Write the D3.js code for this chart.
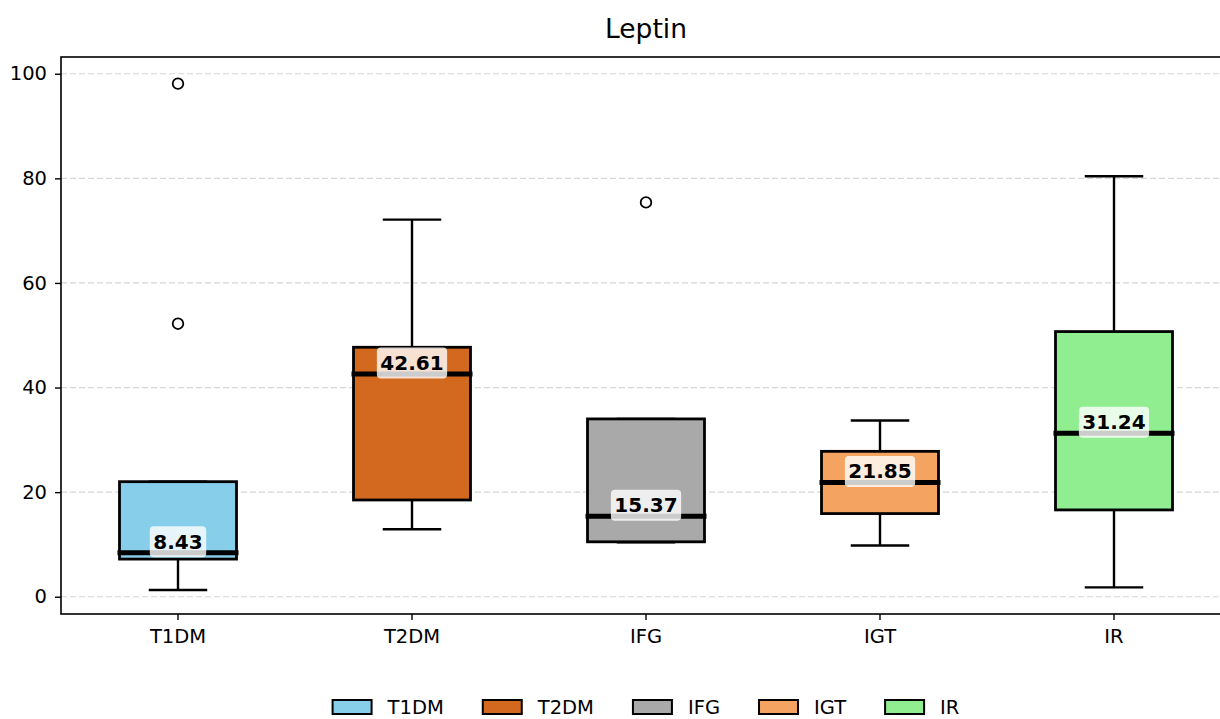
<!DOCTYPE html>
<html>
<head>
<meta charset="utf-8">
<script src="https://cdn.jsdelivr.net/npm/d3@7"></script>
<style>
  html, body { margin: 0; padding: 0; background: #fff; }
  svg { display: block; font-family: "DejaVu Sans", sans-serif; }
</style>
</head>
<body>
<svg id="chart" width="1220" height="719"></svg>
<script>
const title = "Leptin";
const categories = ["T1DM", "T2DM", "IFG", "IGT", "IR"];
const whiskerLow = [1.3, 12.9, 10.4, 9.8, 1.8];
const q1 = [7.2, 18.5, 10.5, 15.9, 16.6];
const medians = [8.43, 42.61, 15.37, 21.85, 31.24];
const q3 = [22.0, 47.7, 34.0, 27.8, 50.7];
const whiskerHigh = [22.0, 72.1, 34.0, 33.7, 80.4];
const outliers = [[98.1, 52.2], [], [75.4], [], []];
const colors = ["#87CEEB", "#D2691E", "#A9A9A9", "#F4A460", "#90EE90"];
const yTicks = [0, 20, 40, 60, 80, 100];

const svg = d3.select("#chart");
const plot = { left: 61, right: 1231, top: 57, bottom: 614 };

const x = d3.scaleBand().domain(categories)
  .range([plot.left, plot.right]).paddingInner(0.5).paddingOuter(0.25);
const y = d3.scaleLinear().domain([-3.3, 103.2]).range([plot.bottom, plot.top]);
const cx = c => x(c) + x.bandwidth() / 2;

// grid
svg.append("g").selectAll("line").data(yTicks).join("line")
  .attr("x1", plot.left).attr("x2", plot.right)
  .attr("y1", d => y(d)).attr("y2", d => y(d))
  .attr("stroke", "#d6d6d6").attr("stroke-width", 1.2)
  .attr("stroke-dasharray", "6,3");

const data = categories.map((c, i) => ({
  c, lo: whiskerLow[i], q1: q1[i], med: medians[i], q3: q3[i], hi: whiskerHigh[i],
  out: outliers[i], color: colors[i]
}));

const g = svg.append("g");
const bw = x.bandwidth();
data.forEach(d => {
  const xc = cx(d.c);
  // whiskers
  g.append("line").attr("x1", xc).attr("x2", xc).attr("y1", y(d.q1)).attr("y2", y(d.lo))
    .attr("stroke", "#000").attr("stroke-width", 2.4);
  g.append("line").attr("x1", xc).attr("x2", xc).attr("y1", y(d.q3)).attr("y2", y(d.hi))
    .attr("stroke", "#000").attr("stroke-width", 2.4);
  // caps
  [d.lo, d.hi].forEach(v => {
    g.append("line").attr("x1", xc - bw / 4).attr("x2", xc + bw / 4)
      .attr("y1", y(v)).attr("y2", y(v))
      .attr("stroke", "#000").attr("stroke-width", 2.4);
  });
  // box
  g.append("rect").attr("x", xc - bw / 2).attr("width", bw)
    .attr("y", y(d.q3)).attr("height", y(d.q1) - y(d.q3))
    .attr("fill", d.color).attr("stroke", "#000").attr("stroke-width", 2.8);
  // median
  g.append("line").attr("x1", xc - bw / 2 - 2).attr("x2", xc + bw / 2 + 2)
    .attr("y1", y(d.med)).attr("y2", y(d.med))
    .attr("stroke", "#000").attr("stroke-width", 5);
  // outliers
  d.out.forEach(v => {
    g.append("circle").attr("cx", xc).attr("cy", y(v)).attr("r", 5.3)
      .attr("fill", "none").attr("stroke", "#000").attr("stroke-width", 1.8);
  });
  // median label
  const lg = g.append("g");
  const bg = lg.append("rect");
  const t = lg.append("text").attr("x", xc).attr("y", y(d.med) - 4)
    .attr("text-anchor", "middle").attr("font-size", 20).attr("font-weight", "bold")
    .attr("fill", "#000").text(d.med.toFixed(2));
  const bb = t.node().getBBox();
  const pad = 3.5;
  bg.attr("x", bb.x - pad).attr("y", bb.y - pad)
    .attr("width", bb.width + 2 * pad).attr("height", bb.height + 2 * pad)
    .attr("rx", 4).attr("fill", "#fff").attr("fill-opacity", 0.8);
});

// frame
svg.append("rect").attr("x", plot.left).attr("y", plot.top)
  .attr("width", plot.right - plot.left).attr("height", plot.bottom - plot.top)
  .attr("fill", "none").attr("stroke", "#000").attr("stroke-width", 1.6);

// axes
const yAxis = svg.append("g").attr("transform", `translate(${plot.left},0)`)
  .call(d3.axisLeft(y).tickValues(yTicks).tickSize(6).tickPadding(8).tickFormat(d3.format("d")));
const xAxis = svg.append("g").attr("transform", `translate(0,${plot.bottom})`)
  .call(d3.axisBottom(x).tickSize(6).tickPadding(9));
[yAxis, xAxis].forEach(a => {
  a.select(".domain").remove();
  a.selectAll(".tick line").attr("stroke", "#000").attr("stroke-width", 1.4);
  a.selectAll(".tick text").attr("font-size", 19.5).attr("fill", "#000")
    .attr("font-family", "DejaVu Sans");
});

// title
svg.append("text").attr("x", (plot.left + plot.right) / 2).attr("y", 38)
  .attr("text-anchor", "middle").attr("font-size", 26.5).attr("fill", "#000").text(title);

// legend
const leg = svg.append("g");
const handleW = 39, handleH = 14, textGap = 16, colGap = 39;
let cursor = 0;
data.forEach(d => {
  const it = leg.append("g").attr("transform", `translate(${cursor},0)`);
  it.append("rect").attr("x", 0).attr("y", -handleH).attr("width", handleW).attr("height", handleH)
    .attr("fill", d.color).attr("stroke", "#000").attr("stroke-width", 2);
  const tt = it.append("text").attr("x", handleW + textGap).attr("y", 0)
    .attr("font-size", 19.5).attr("fill", "#000").text(d.c);
  const w = tt.node().getComputedTextLength();
  cursor += handleW + textGap + w + colGap;
});
const totalW = cursor - colGap;
leg.attr("transform", `translate(${(plot.left + plot.right) / 2 - totalW / 2},714)`);
</script>
</body>
</html>
